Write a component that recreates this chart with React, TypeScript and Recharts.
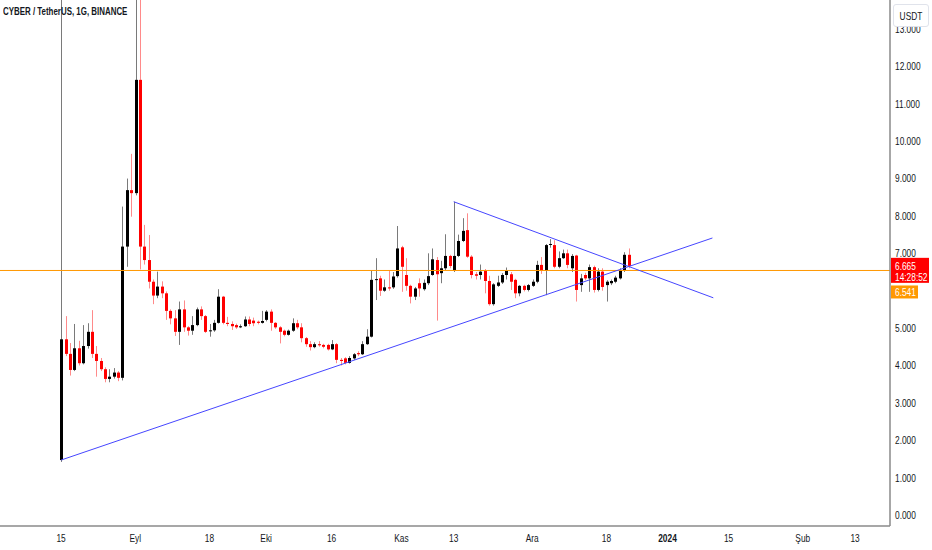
import { Bar, ComposedChart, ReferenceLine, XAxis, YAxis } from "recharts";

// daily candles from Aug 15 (day 0) to Dec 23 (day 130)
const opens = [
  1.47, 4.7, 4.31, 3.88, 4.46, 4.06, 4.52, 4.9, 4.31, 4.12, 3.9, 3.64, 3.7, 3.81, 3.67, 7.18, 8.69, 8.61, 11.64, 7.18,
  6.82, 6.24, 5.87, 6.11, 5.93, 5.46, 5.26, 4.9, 5.5, 5.02, 4.93, 5.08, 5.5, 5.32, 4.92, 4.94, 5.14, 5.84, 5.14, 5.11,
  5.08, 5.02, 5.05, 5.23, 5.2, 5.17, 5.14, 5.22, 5.44, 5.14, 5.02, 4.93, 4.82, 4.93, 5.13, 5.02, 4.73, 4.57, 4.49, 4.57,
  4.55, 4.55, 4.43, 4.57, 4.15, 4.19, 4.07, 4.19, 4.33, 4.3, 4.57, 4.77, 6.29, 6.33, 6.0, 6.09, 6.09, 6.39, 7.16, 6.42,
  6.13, 5.84, 6.2, 6.04, 6.2, 6.42, 6.82, 6.47, 6.6, 6.93, 6.55, 6.93, 7.33, 7.62, 6.91, 6.44, 6.42, 6.53, 6.26, 5.64,
  6.13, 6.22, 6.42, 6.44, 6.29, 5.93, 6.13, 6.02, 6.13, 6.24, 6.69, 6.53, 7.23, 7.22, 6.64, 6.87, 7.0, 6.6, 6.94, 6.15,
  6.42, 6.33, 6.63, 6.02, 6.51, 6.15, 6.2, 6.24, 6.33, 6.55, 6.96,
];
const highs = [
  20, 5.32, 4.6, 5.11, 4.66, 5.08, 5.13, 5.48, 4.52, 4.2, 3.95, 3.9, 3.93, 3.85, 8.25, 9.0, 9.66, 16, 15, 7.76,
  7.49, 6.3, 6.51, 6.25, 5.98, 5.5, 5.48, 5.71, 5.74, 5.05, 5.32, 5.55, 5.58, 5.35, 5.11, 5.22, 6.04, 5.86, 5.3, 5.18,
  5.12, 5.1, 5.31, 5.31, 5.28, 5.2, 5.46, 5.48, 5.5, 5.16, 5.05, 4.96, 4.96, 5.26, 5.22, 5.13, 4.76, 4.65, 4.62, 4.65,
  4.58, 4.58, 4.68, 4.6, 4.2, 4.22, 4.25, 4.33, 4.38, 4.65, 4.97, 6.54, 6.87, 6.4, 6.3, 6.54, 6.5, 7.73, 7.2, 6.87,
  6.16, 6.1, 6.33, 6.3, 7.0, 7.13, 6.9, 6.8, 7.51, 6.96, 8.38, 7.5, 7.94, 8.07, 6.95, 6.5, 6.7, 6.58, 6.4, 6.2,
  6.4, 6.47, 6.62, 6.5, 6.32, 6.15, 6.16, 6.18, 6.3, 6.8, 6.9, 7.25, 7.38, 7.35, 7.05, 7.1, 7.1, 6.98, 6.96, 6.45,
  6.48, 6.7, 6.67, 6.6, 6.6, 6.28, 6.3, 6.4, 6.6, 7.03, 7.13,
];
const lows = [
  1.42, 4.25, 3.73, 3.85, 4.0, 4.03, 4.45, 4.2, 3.7, 3.85, 3.55, 3.55, 3.65, 3.58, 3.6, 6.64, 7.98, 8.55, 6.57, 6.7,
  6.06, 5.64, 5.8, 5.8, 5.22, 5.1, 4.79, 4.55, 4.9, 4.8, 4.82, 5.05, 5.22, 4.87, 4.77, 4.9, 5.12, 5.1, 5.05, 4.95,
  4.98, 5.0, 5.03, 5.05, 5.05, 5.1, 5.12, 5.18, 4.93, 4.98, 4.59, 4.78, 4.8, 4.9, 4.97, 4.62, 4.5, 4.4, 4.46, 4.5,
  4.46, 4.4, 4.41, 4.06, 4.0, 4.03, 4.05, 4.15, 4.25, 4.28, 4.55, 4.75, 5.75, 5.86, 5.97, 6.0, 6.05, 6.35, 5.97, 6.0,
  5.66, 5.75, 5.84, 6.0, 6.15, 6.4, 5.2, 6.2, 6.55, 6.6, 6.5, 6.9, 7.3, 6.88, 6.33, 6.3, 6.3, 5.93, 5.6, 5.6,
  6.1, 6.18, 6.3, 6.02, 5.8, 5.85, 5.98, 5.98, 6.1, 6.2, 6.45, 5.88, 7.15, 6.6, 6.6, 6.85, 6.6, 6.5, 5.71, 5.97,
  6.28, 5.97, 5.95, 5.98, 6.0, 5.71, 6.15, 6.2, 6.3, 6.5, 6.6,
];
const closes = [
  4.7, 4.31, 3.88, 4.46, 4.06, 4.52, 4.9, 4.31, 4.12, 3.9, 3.64, 3.7, 3.81, 3.67, 7.18, 8.69, 8.61, 11.64, 7.18, 6.82,
  6.24, 5.87, 6.11, 5.93, 5.46, 5.26, 4.9, 5.5, 5.02, 4.93, 5.08, 5.5, 5.32, 4.9, 4.94, 5.14, 5.84, 5.14, 5.11, 5.05,
  5.02, 5.05, 5.23, 5.11, 5.13, 5.14, 5.19, 5.44, 5.14, 5.02, 4.9, 4.82, 4.93, 5.13, 5.02, 4.73, 4.57, 4.49, 4.57, 4.54,
  4.5, 4.43, 4.57, 4.15, 4.12, 4.07, 4.2, 4.3, 4.3, 4.57, 4.77, 6.29, 6.31, 6.0, 6.09, 6.06, 6.38, 7.13, 6.64, 6.13,
  5.84, 6.06, 6.06, 6.21, 6.39, 6.84, 6.44, 6.6, 6.93, 6.66, 6.93, 7.33, 7.6, 6.91, 6.42, 6.4, 6.51, 6.26, 5.64, 6.17,
  6.22, 6.42, 6.53, 6.24, 5.93, 6.13, 6.02, 6.15, 6.24, 6.69, 6.53, 7.22, 7.25, 6.64, 6.87, 7.0, 6.69, 6.93, 6.02, 6.33,
  6.33, 6.63, 6.02, 6.51, 6.1, 6.24, 6.26, 6.35, 6.55, 6.96, 6.665,
];

const tickDays = [0, 17, 34, 47, 62, 78, 90, 108, 125, 139, 153, 170, 182];
const tickLabels = ["15", "Eyl", "18", "Eki", "16", "Kas", "13", "Ara", "18", "2024", "15", "Şub", "13"];
// 6.000 sits under the price tags, so it is not labelled
const priceTicks = [0, 1, 2, 3, 4, 5, 7, 8, 9, 10, 11, 12, 13];

const lastPrice = 6.665;
const countdown = "14:28:52";
const markPrice = 6.541;
const supportLine = [
  { day: 0, price: 1.47 },
  { day: 149.3, price: 7.41 },
];
const resistanceLine = [
  { day: 90, price: 8.38 },
  { day: 149.5, price: 5.81 },
];

const candles = opens.map((o, i) => ({ day: i, o, h: highs[i], l: lows[i], c: closes[i] }));

const FONT = "'Liberation Sans', Arial, sans-serif";
const TEXT = "#131722";
const SQUEEZE = 0.76;

const Candle = (props: any) => {
  const { x, y, width, height, payload } = props;
  const { o, h, l, c } = payload;
  const up = c >= o;
  const top = Math.min(y, y + height);
  const span = Math.abs(height);
  const k = span / (h - l);
  const yOf = (v: number) => top + (h - v) * k;
  const cx = Math.round(x + width / 2);
  const bodyTop = yOf(Math.max(o, c));
  const bodyBottom = yOf(Math.min(o, c));
  return (
    <g>
      <line
        x1={cx + 0.5}
        x2={cx + 0.5}
        y1={top}
        y2={top + span}
        stroke={up ? "#7a7a7a" : "#ff8a8a"}
        strokeWidth={1}
      />
      <rect
        x={cx - 1}
        y={bodyTop}
        width={3}
        height={Math.max(1, bodyBottom - bodyTop)}
        fill={up ? "#000000" : "#ff0000"}
      />
    </g>
  );
};

const NarrowText = ({ x, y, anchor, bold, fill, dy, children }: any) => (
  <text
    transform={`translate(${x},${y}) scale(${SQUEEZE},1)`}
    dy={dy}
    textAnchor={anchor}
    fontSize={11}
    fontFamily={FONT}
    fontWeight={bold ? 700 : 400}
    fill={fill}
  >
    {children}
  </text>
);

const DateTick = ({ x, y, payload }: any) => {
  const label = tickLabels[tickDays.indexOf(payload.value)];
  return (
    <NarrowText x={x} y={y} dy="0.71em" anchor="middle" bold={label === "2024"} fill={TEXT}>
      {label}
    </NarrowText>
  );
};

const PriceTick = ({ x, y, payload }: any) => (
  <NarrowText x={x} y={y} dy="0.355em" anchor="start" fill={TEXT}>
    {payload.value.toFixed(3)}
  </NarrowText>
);

const LastPriceTag = ({ viewBox }: any) => {
  const x = viewBox.x + viewBox.width + 1;
  const y = viewBox.y;
  return (
    <g>
      <rect x={x} y={y - 8} width={38} height={25} fill="#ff0000" />
      <NarrowText x={x + 4} y={y + 4} anchor="start" fill="#ffffff">
        {lastPrice.toFixed(3)}
      </NarrowText>
      <NarrowText x={x + 4} y={y + 15} anchor="start" fill="#ffffff">
        {countdown}
      </NarrowText>
    </g>
  );
};

const MarkPriceTag = ({ viewBox }: any) => {
  const x = viewBox.x + viewBox.width + 1;
  const y = viewBox.y;
  return (
    <g>
      <rect x={x} y={y + 15} width={27} height={13} fill="#ff9800" />
      <NarrowText x={x + 4} y={y + 25.5} anchor="start" fill="#ffffff">
        {markPrice.toFixed(3)}
      </NarrowText>
    </g>
  );
};

export default function App() {
  return (
    <div style={{ position: "absolute", left: 0, top: 0, width: 932, height: 550, background: "#fff" }}>
      <ComposedChart
        width={932}
        height={550}
        data={candles}
        margin={{ top: 0, right: 0, bottom: 0, left: 0 }}
      >
        <XAxis
          type="number"
          dataKey="day"
          domain={[-14, 190]}
          allowDataOverflow
          ticks={tickDays}
          tick={<DateTick />}
          tickLine={false}
          tickSize={0}
          tickMargin={8}
          height={24}
          axisLine={{ stroke: "#8a8a8a", strokeWidth: 1.5 }}
        />
        <YAxis
          orientation="right"
          type="number"
          domain={[-0.294, 13.776]}
          allowDataOverflow
          ticks={priceTicks}
          interval={0}
          width={42}
          tickLine={false}
          tickSize={0}
          tickMargin={5}
          tick={<PriceTick />}
          axisLine={{ stroke: "#8a8a8a", strokeWidth: 1.5 }}
        />
        <ReferenceLine y={markPrice} stroke="#ff9800" strokeWidth={1} label={<MarkPriceTag />} />
        <ReferenceLine y={lastPrice} stroke="none" label={<LastPriceTag />} />
        <Bar
          dataKey={(d: any) => [d.l, d.h]}
          barSize={3}
          shape={<Candle />}
          isAnimationActive={false}
        />
        <ReferenceLine
          segment={supportLine.map((p) => ({ x: p.day, y: p.price }))}
          stroke="#4646ff"
          strokeWidth={1}
          ifOverflow="visible"
        />
        <ReferenceLine
          segment={resistanceLine.map((p) => ({ x: p.day, y: p.price }))}
          stroke="#4646ff"
          strokeWidth={1}
          ifOverflow="visible"
        />
      </ComposedChart>
      <div
        style={{
          position: "absolute",
          left: 3,
          top: 5,
          fontFamily: FONT,
          fontSize: 11,
          fontWeight: 700,
          color: TEXT,
          whiteSpace: "nowrap",
          transform: "scaleX(0.72)",
          transformOrigin: "left top",
        }}
      >
        CYBER / TetherUS, 1G, BINANCE
      </div>
      <div
        style={{
          position: "absolute",
          left: 893,
          top: 4,
          width: 36,
          height: 23,
          boxSizing: "border-box",
          border: "1px solid #e0e3eb",
          borderRadius: 3,
          background: "#fff",
          fontFamily: FONT,
          fontSize: 11,
          color: TEXT,
          display: "flex",
          alignItems: "center",
          justifyContent: "center",
        }}
      >
        <span style={{ display: "inline-block", transform: `scaleX(${SQUEEZE})` }}>USDT</span>
      </div>
    </div>
  );
}
